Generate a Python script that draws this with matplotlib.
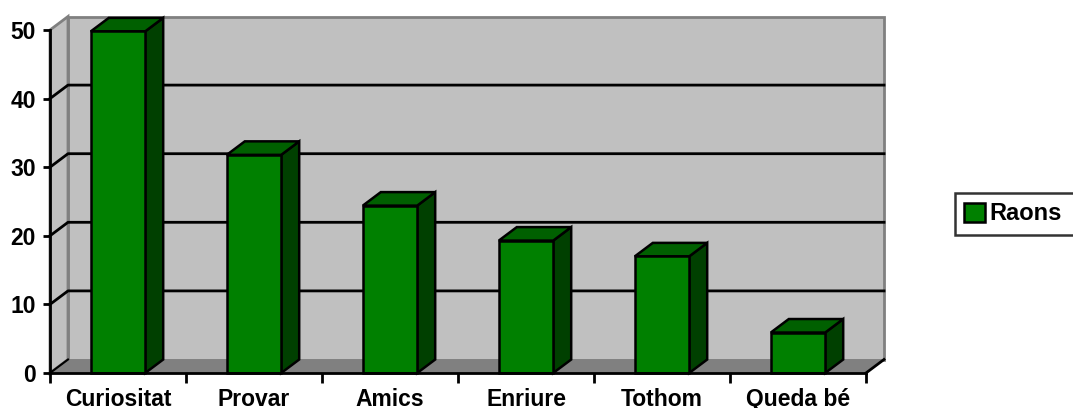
import matplotlib
matplotlib.use("Agg")
import matplotlib.pyplot as plt
from matplotlib.patches import Polygon, Rectangle, Patch
import numpy as np

categories = ["Curiositat", "Provar", "Amics", "Enriure", "Tothom", "Queda bé"]
values = [49.8, 31.8, 24.4, 19.3, 17.0, 5.9]
series_name = "Raons"
yticks = [0, 10, 20, 30, 40, 50]

W, H = 1073, 408
fig = plt.figure(figsize=(W / 100, H / 100), dpi=100)
plt.rcParams['font.family'] = ['Liberation Sans', 'DejaVu Sans']
FS = 16.5

left, right, bottom, top = 50, 866, 373, 30
ax = fig.add_axes([left / W, 1 - bottom / H, (right - left) / W, (bottom - top) / H])
n = len(categories)
ax.set_xlim(0, n)
ax.set_ylim(0, 50)
for s in ax.spines.values():
    s.set_visible(False)
ax.patch.set_visible(False)

# depth offset (pixels) converted into data units
fig.canvas.draw()
p0 = ax.transData.transform((0, 0))
inv = ax.transData.inverted()
ddx, ddy = inv.transform(p0 + np.array([18, 13.5]))

wall_c = '#C0C0C0'
floor_c = '#808080'
edge_gray = '#808080'

# back wall
ax.add_patch(Polygon([(ddx, ddy), (n + ddx, ddy), (n + ddx, 50 + ddy), (ddx, 50 + ddy)],
                     closed=True, facecolor=wall_c, edgecolor=edge_gray, lw=2, clip_on=False, zorder=1))
# left wall
ax.add_patch(Polygon([(0, 0), (0, 50), (ddx, 50 + ddy), (ddx, ddy)],
                     closed=True, facecolor=wall_c, edgecolor=edge_gray, lw=2, clip_on=False, zorder=1))
# floor
ax.add_patch(Polygon([(0, 0), (n, 0), (n + ddx, ddy), (ddx, ddy)],
                     closed=True, facecolor=floor_c, edgecolor='none', clip_on=False, zorder=1.5))

# gridlines
for v in yticks[1:-1]:
    ax.plot([0, ddx, n + ddx], [v, v + ddy, v + ddy], color='black', lw=2, clip_on=False, zorder=2)
ax.plot([0, ddx], [0, ddy], color='black', lw=1.5, clip_on=False, zorder=2)
ax.plot([n, n + ddx], [0, ddy], color='black', lw=2, clip_on=False, zorder=2)

# bars
w = 0.4
front_c, top_c, side_c = '#008000', '#006000', '#004000'
for i, v in enumerate(values):
    x0 = i + 0.5 - w / 2
    z = 3 + i * 0.01
    ax.add_patch(Polygon([(x0 + w, 0), (x0 + w + ddx, ddy), (x0 + w + ddx, v + ddy), (x0 + w, v)],
                         closed=True, facecolor=side_c, edgecolor='black', lw=1.8, clip_on=False, zorder=z))
    ax.add_patch(Polygon([(x0, v), (x0 + w, v), (x0 + w + ddx, v + ddy), (x0 + ddx, v + ddy)],
                         closed=True, facecolor=top_c, edgecolor='black', lw=1.8, clip_on=False, zorder=z))
    ax.add_patch(Rectangle((x0, 0), w, v, facecolor=front_c, edgecolor='black', lw=1.8,
                           clip_on=False, zorder=z + 0.001))

# axes lines
ax.plot([0, 0], [0, 50], color='black', lw=2, clip_on=False, zorder=5)
ax.plot([0, n], [0, 0], color='black', lw=2, clip_on=False, zorder=5)

ax.set_yticks(yticks)
ax.set_yticklabels([str(t) for t in yticks], fontsize=FS, fontweight='bold')
ax.tick_params(axis='y', length=5, width=2, direction='out', pad=5)

ax.set_xticks(np.arange(n + 1), minor=False)
ax.set_xticklabels([''] * (n + 1))
ax.tick_params(axis='x', which='major', length=7, width=2, direction='out')
ax.set_xticks(np.arange(n) + 0.5, minor=True)
ax.set_xticklabels(categories, minor=True, fontsize=FS, fontweight='bold')
ax.tick_params(axis='x', which='minor', length=0, pad=11)

leg = fig.legend(handles=[Patch(facecolor=front_c, edgecolor='black', lw=1.8)], labels=[series_name],
                 loc='upper left', bbox_to_anchor=(955 / W, 1 - 235 / H, 130 / W, 42 / H),
                 mode='expand',
                 prop={'size': 17, 'weight': 'bold'}, frameon=True, fancybox=False,
                 edgecolor='black', handlelength=0.85, handleheight=0.85, handletextpad=0.2,
                 borderpad=0.4, borderaxespad=0)
leg.get_frame().set_linewidth(1.8)

fig.savefig('out.png', dpi=100)
